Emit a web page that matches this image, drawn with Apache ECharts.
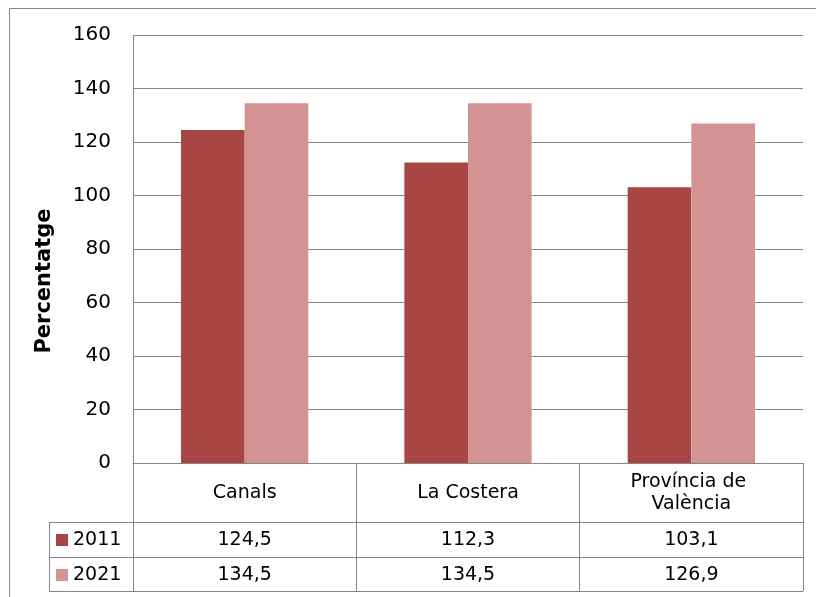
<!DOCTYPE html>
<html>
<head>
<meta charset="utf-8">
<script src="https://cdn.jsdelivr.net/npm/echarts@6/dist/echarts.min.js"></script>
<style>
  html, body { margin: 0; padding: 0; background: #fff; }
  #chart { width: 816px; height: 597px; }
</style>
</head>
<body>
<div id="chart"></div>
<script>
// dades
const categories = ['Canals', 'La Costera', 'Província de València'];
const years = ['2011', '2021'];
const values2011 = [124.5, 112.3, 103.1];
const values2021 = [134.5, 134.5, 126.9];
const yTicks = [0, 20, 40, 60, 80, 100, 120, 140, 160];

const colors = ['#A84644', '#D39392'];
const FONT = 'DejaVu Sans';
const GRID = '#868686';

// format amb coma decimal
const fmt = v => v.toFixed(1).replace('.', ',');

const chart = echarts.init(document.getElementById('chart'));

// posicions de la taula de dades
const left = 133, right = 803, axisY = 463;
const rowTop = [522, 557, 591];

const valueAxis = (vals, margin) => ({
  type: 'category',
  data: categories,
  position: 'bottom',
  axisLine: { show: false },
  axisTick: { show: false },
  axisLabel: {
    interval: 0,
    margin: margin,
    verticalAlign: 'middle',
    fontFamily: FONT,
    fontSize: 19,
    color: '#000',
    formatter: (v, i) => fmt(vals[i])
  }
});

const option = {
  animation: false,
  color: colors,
  textStyle: { fontFamily: FONT },
  grid: { left: left, right: 816 - right, top: 35, bottom: 597 - axisY },
  legend: {
    data: years,
    orient: 'vertical',
    left: 56,
    top: 530,
    padding: 0,
    icon: 'rect',
    itemWidth: 12,
    itemHeight: 12,
    itemGap: 15,
    textStyle: { fontFamily: FONT, fontSize: 19, color: '#000', lineHeight: 20 }
  },
  xAxis: [
    {
      type: 'category',
      data: categories,
      position: 'bottom',
      axisLine: { lineStyle: { color: GRID, width: 1 } },
      axisTick: { show: true, interval: 0, length: rowTop[2] - axisY, lineStyle: { color: GRID } },
      axisLabel: {
        interval: 0,
        margin: 30,
        verticalAlign: 'middle',
        fontFamily: FONT,
        fontSize: 19,
        lineHeight: 22,
        color: '#000',
        width: 160,
        overflow: 'break'
      }
    },
    valueAxis(values2011, 77),
    valueAxis(values2021, 112)
  ],
  yAxis: {
    type: 'value',
    min: yTicks[0],
    max: yTicks[yTicks.length - 1],
    interval: 20,
    name: 'Percentatge',
    nameLocation: 'middle',
    nameGap: 78,
    nameTextStyle: { fontFamily: FONT, fontSize: 21, fontWeight: 'bold', color: '#000', padding: [0, 64, 0, 0] },
    axisLine: { show: true, lineStyle: { color: GRID } },
    axisTick: { show: false },
    splitLine: { lineStyle: { color: GRID, width: 1 } },
    axisLabel: { margin: 22, fontFamily: FONT, fontSize: 20, color: '#000' }
  },
  series: [
    { name: years[0], type: 'bar', data: values2011, barGap: '0%', barCategoryGap: '43%' },
    { name: years[1], type: 'bar', data: values2021, barGap: '0%', barCategoryGap: '43%' }
  ],
  graphic: [
    // marc exterior
    { type: 'rect', shape: { x: 9.5, y: 8.5, width: 900, height: 700 },
      style: { fill: null, stroke: GRID, lineWidth: 1 }, silent: true },
    // línies horitzontals de la taula
    { type: 'line', shape: { x1: 49, y1: rowTop[0] + 0.5, x2: right, y2: rowTop[0] + 0.5 }, style: { stroke: GRID, lineWidth: 1 } },
    { type: 'line', shape: { x1: 49, y1: rowTop[1] + 0.5, x2: right, y2: rowTop[1] + 0.5 }, style: { stroke: GRID, lineWidth: 1 } },
    { type: 'line', shape: { x1: 49, y1: rowTop[2] + 0.5, x2: right, y2: rowTop[2] + 0.5 }, style: { stroke: GRID, lineWidth: 1 } },
    { type: 'line', shape: { x1: 49.5, y1: rowTop[0], x2: 49.5, y2: rowTop[2] + 1 }, style: { stroke: GRID, lineWidth: 1 } }
  ]
};

chart.setOption(option);
</script>
</body>
</html>
